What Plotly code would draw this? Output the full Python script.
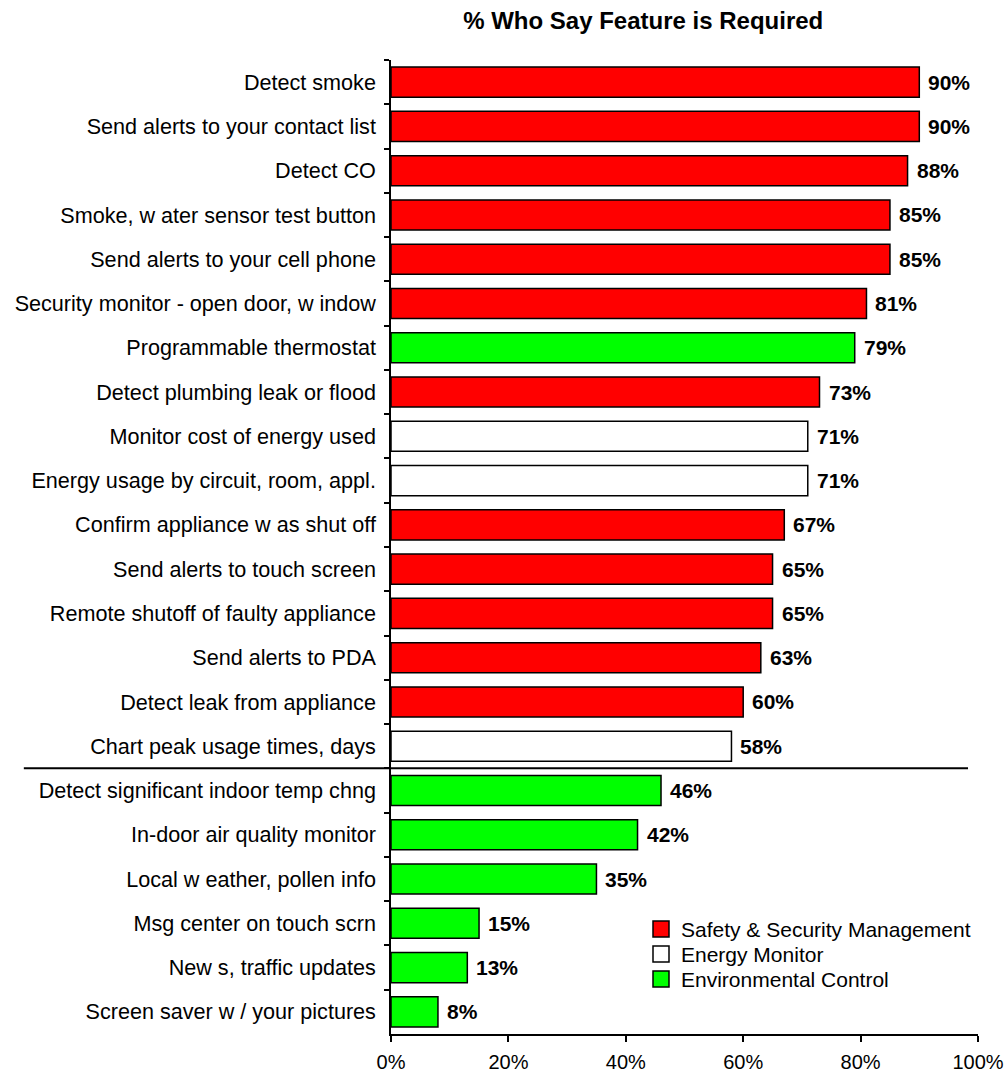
import plotly.graph_objects as go

# Features, their share of respondents who say the feature is required, and group
features = [
    "Detect smoke",
    "Send alerts to your contact list",
    "Detect CO",
    "Smoke, w ater sensor test button",
    "Send alerts to your cell phone",
    "Security monitor - open door, w indow",
    "Programmable thermostat",
    "Detect plumbing leak or flood",
    "Monitor cost of energy used",
    "Energy usage by circuit, room, appl.",
    "Confirm appliance w as shut off",
    "Send alerts to touch screen",
    "Remote shutoff of faulty appliance",
    "Send alerts to PDA",
    "Detect leak from appliance",
    "Chart peak usage times, days",
    "Detect significant indoor temp chng",
    "In-door air quality monitor",
    "Local w eather, pollen info",
    "Msg center on touch scrn",
    "New s, traffic updates",
    "Screen saver w / your pictures",
]
pct_required = [90, 90, 88, 85, 85, 81, 79, 73, 71, 71, 67, 65, 65, 63, 60, 58,
                46, 42, 35, 15, 13, 8]
groups = ["S", "S", "S", "S", "S", "S", "V", "S", "E", "E", "S", "S", "S", "S", "S", "E",
          "V", "V", "V", "V", "V", "V"]

group_order = ["S", "E", "V"]
group_names = {"S": "Safety & Security Management",
               "E": "Energy Monitor",
               "V": "Environmental Control"}
group_colors = {"S": "#FF0000", "E": "#FFFFFF", "V": "#00FF00"}

FONT = "Liberation Sans, Arial, sans-serif"

# page geometry (pixels) used to place the key inside the plot area
W, H = 1005, 1073
ML, MR, MT, MB = 391, 27, 60, 39
PW, PH = W - ML - MR, H - MT - MB


def px_x(px):
    return (px - ML) / PW


def px_y(py):
    return (H - MB - py) / PH


fig = go.Figure()
for g in group_order:
    ys = [f for f, gg in zip(features, groups) if gg == g]
    xs = [v for v, gg in zip(pct_required, groups) if gg == g]
    fig.add_trace(go.Bar(
        y=ys, x=xs, orientation="h", name=group_names[g],
        marker=dict(color=group_colors[g], line=dict(color="black", width=1.5)),
        hoverinfo="x+y",
    ))

# value labels at the end of each bar
for f, v in zip(features, pct_required):
    fig.add_annotation(x=v, y=f, xref="x", yref="y", text=f"<b>{v}%</b>",
                       showarrow=False, xanchor="left", xshift=7,
                       font=dict(family=FONT, size=21, color="black"))

# divider between the top and bottom feature blocks
fig.add_shape(type="line", xref="paper", yref="y",
              x0=-0.6255, x1=0.983, y0=15.5, y1=15.5,
              line=dict(color="black", width=2))

# group key: outlined swatches with labels, one row per group
for i, g in enumerate(group_order):
    cy = 929 + 25 * i
    fig.add_shape(type="rect", xref="paper", yref="paper",
                  x0=px_x(653), x1=px_x(669), y0=px_y(cy + 8), y1=px_y(cy - 8),
                  fillcolor=group_colors[g], line=dict(color="black", width=1.5))
    fig.add_annotation(x=px_x(679), y=px_y(cy), xref="paper", yref="paper",
                       text=group_names[g], showarrow=False,
                       xanchor="left", yanchor="middle",
                       font=dict(family=FONT, size=21, color="black"))

fig.update_layout(
    width=W, height=H,
    margin=dict(l=ML, r=MR, t=MT, b=MB, autoexpand=False),
    paper_bgcolor="white", plot_bgcolor="white",
    barmode="overlay", bargap=0.32, showlegend=False,
    font=dict(family=FONT, size=21, color="black"),
    title=dict(text="<b>% Who Say Feature is Required</b>",
               x=0.640, xanchor="center", y=0.981, yanchor="middle",
               font=dict(family=FONT, size=24, color="black")),
    xaxis=dict(range=[0, 100], tickvals=[0, 20, 40, 60, 80, 100],
               ticktext=["0%", "20%", "40%", "60%", "80%", "100%"],
               showgrid=False, zeroline=False, showline=True, linecolor="black",
               linewidth=1.5, ticks="outside", ticklen=6, tickwidth=1.5,
               tickcolor="black", tickfont=dict(size=20), automargin=False,
               ticklabelstandoff=3),
    yaxis=dict(type="category", categoryorder="array", categoryarray=features,
               autorange="reversed", showgrid=False, showline=True,
               linecolor="black", linewidth=1.5, ticks="outside",
               tickson="boundaries", ticklen=5, tickwidth=1.5, tickcolor="black",
               ticklabelstandoff=9, tickfont=dict(size=21.6), automargin=False),
)

fig.write_html("out.html")
